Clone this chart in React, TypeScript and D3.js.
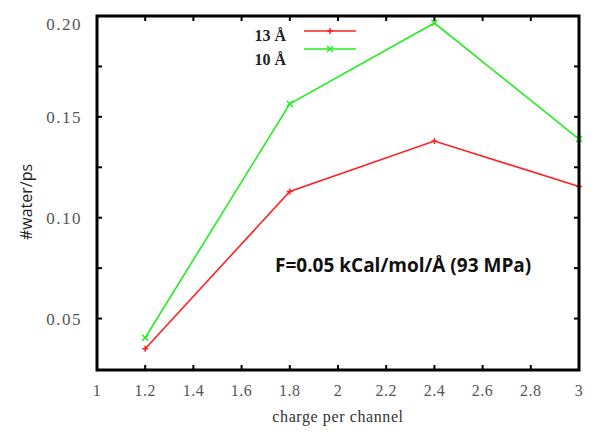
import React from "react";
import * as d3 from "d3";

const charges = [1.2, 1.8, 2.4, 3.0];
const water13 = [0.035, 0.113, 0.138, 0.1155];
const water10 = [0.0405, 0.1565, 0.1965, 0.139];
const xTicks = [1, 1.2, 1.4, 1.6, 1.8, 2, 2.2, 2.4, 2.6, 2.8, 3];
const yMajor = [0.05, 0.1, 0.15, 0.2];
const yMinor = [0.075, 0.125, 0.175];
const seriesNames = ["13 Å", "10 Å"];
const annotation = "F=0.05 kCal/mol/Å (93 MPa)";

const W = 600, H = 445;
const L = 97, R = 579, T = 16, B = 370;

export default function App() {
  const x = d3.scaleLinear().domain([1, 3]).range([L, R]);
  const y = d3.scaleLinear().domain([0.0245, 0.2]).range([B, T]);
  const line = d3.line<number>().x((_, i) => x(charges[i])).y((d) => y(d));
  const serif = "'Liberation Serif', 'DejaVu Serif', serif";
  const sans = "'Open Sans', 'Noto Sans', sans-serif";
  const series = [
    { vals: water13, color: "#ff2020", mark: "plus" },
    { vals: water10, color: "#22ee22", mark: "cross" },
  ];
  const marker = (cx: number, cy: number, kind: string, color: string, key: string) =>
    kind === "plus" ? (
      <g key={key} stroke={color} strokeWidth={1.5}>
        <line x1={cx - 3} x2={cx + 3} y1={cy} y2={cy} />
        <line x1={cx} x2={cx} y1={cy - 3} y2={cy + 3} />
      </g>
    ) : (
      <g key={key} stroke={color} strokeWidth={1.5}>
        <line x1={cx - 3} x2={cx + 3} y1={cy - 3} y2={cy + 3} />
        <line x1={cx - 3} x2={cx + 3} y1={cy + 3} y2={cy - 3} />
      </g>
    );
  return (
    <svg width={W} height={H} style={{ position: "absolute", left: 0, top: 0, background: "#fff" }}>
      <rect width={W} height={H} fill="#fff" />
      {/* ticks */}
      {xTicks.slice(1, -1).map((t) => (
        <g key={"xt" + t} stroke="#000" strokeWidth={2}>
          <line x1={x(t)} x2={x(t)} y1={B} y2={B - 5} />
          <line x1={x(t)} x2={x(t)} y1={T} y2={T + 5} />
        </g>
      ))}
      {[...yMajor.slice(0, -1), ...yMinor].map((t) => (
        <g key={"yt" + t} stroke="#000" strokeWidth={2}>
          <line x1={L} x2={L + 5} y1={y(t)} y2={y(t)} />
          <line x1={R} x2={R - 5} y1={y(t)} y2={y(t)} />
        </g>
      ))}
      {/* data */}
      {series.map((s, si) => (
        <g key={"s" + si}>
          <path d={line(s.vals) || ""} fill="none" stroke={s.color} strokeWidth={1.6} />
          {s.vals.map((v, i) => marker(x(charges[i]), y(v), s.mark, s.color, "m" + si + i))}
        </g>
      ))}
      {/* frame */}
      <rect x={L} y={T} width={R - L} height={B - T} fill="none" stroke="#000" strokeWidth={3} />
      {/* tick labels */}
      {xTicks.map((t) => (
        <text key={"xl" + t} x={x(t)} y={396} textAnchor="middle" fontFamily={serif} fontSize={16} fill="#555" letterSpacing={0.5}>
          {String(t)}
        </text>
      ))}
      {yMajor.map((t) => (
        <text key={"yl" + t} x={82} y={y(t) + (t === 0.2 ? 14 : 6)} textAnchor="end" fontFamily={serif} fontSize={17} fill="#555" letterSpacing={1.5}>
          {t.toFixed(2)}
        </text>
      ))}
      {/* axis titles */}
      <text x={338} y={422} textAnchor="middle" fontFamily={serif} fontSize={16} fill="#333" letterSpacing={0.6}>
        charge per channel
      </text>
      <text transform="translate(32,202) rotate(-90)" textAnchor="middle" fontFamily={sans} fontSize={16} fill="#222">
        #water/ps
      </text>
      {/* legend */}
      {series.map((s, si) => {
        const ly = si === 0 ? 31 : 49;
        return (
          <g key={"lg" + si}>
            <text x={286} y={si === 0 ? 41 : 65} textAnchor="end" fontFamily={serif} fontWeight="bold" fontSize={16} fill="#222">
              {seriesNames[si]}
            </text>
            <line x1={304} x2={356} y1={ly} y2={ly} stroke={s.color} strokeWidth={1.6} />
            {marker(330, ly, s.mark, s.color, "lm" + si)}
          </g>
        );
      })}
      <text x={275} y={272} fontFamily={sans} fontWeight="bold" fontSize={19} fill="#111">
        {annotation}
      </text>
    </svg>
  );
}
